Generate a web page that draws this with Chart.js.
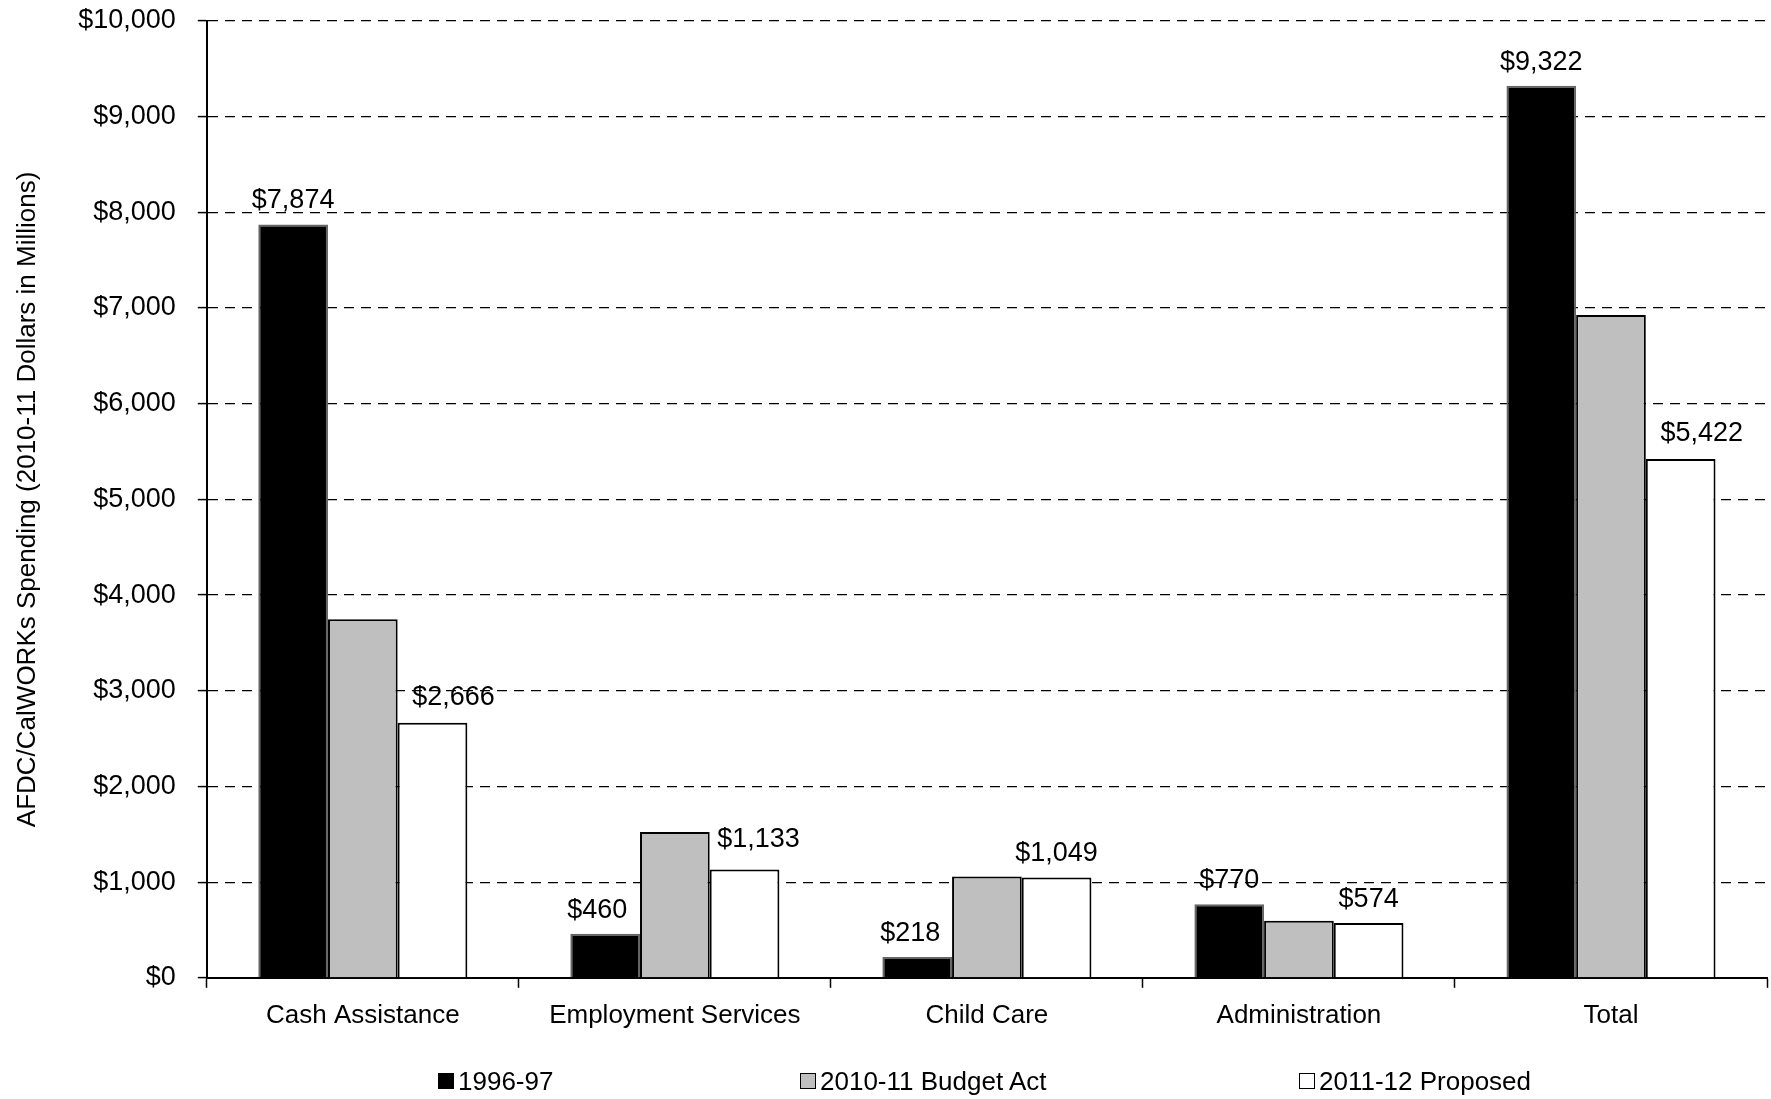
<!DOCTYPE html>
<html>
<head>
<meta charset="utf-8">
<script src="https://cdn.jsdelivr.net/npm/chart.js@4/dist/chart.umd.min.js"></script>
<style>
  html, body { margin: 0; padding: 0; background: #fff; }
  #wrap { position: relative; width: 1771px; height: 1099px; }
  #legend span.item {
    position: absolute; top: 1066px;
    display: flex; align-items: center; white-space: nowrap;
    font-family: "Liberation Sans", Arial, sans-serif;
    font-size: 26px; line-height: 30px; color: #000;
  }
  #legend span.box {
    display: inline-block; width: 16px; height: 16px; margin-right: 4px;
    border: 1.5px solid #000; box-sizing: border-box;
  }
</style>
</head>
<body>
<div id="wrap">
  <canvas id="chart" width="1771" height="1099"></canvas>
  <div id="legend"></div>
</div>
<script>
// ─── Data (2010-11 dollars, millions) ────────────────────────────────────────

const categories = ["Cash Assistance", "Employment Services", "Child Care", "Administration", "Total"];
const seriesNames = ["1996-97", "2010-11 Budget Act", "2011-12 Proposed"];
const spend1996 = [7874, 460, 218, 770, 9322];
const spend2010 = [3747, 1525, 1060, 595, 6927];
const spend2011 = [2666, 1133, 1049, 574, 5422];
const showValues = [true, false, true];   // gray series carries no labels
const yTicks = [0, 1000, 2000, 3000, 4000, 5000, 6000, 7000, 8000, 9000, 10000];

// ─── Styling ─────────────────────────────────────────────────────────────────

const FONT = "'Liberation Sans', Arial, sans-serif";
const fills = ["#000000", "#bfbfbf", "#ffffff"];
const edges = ["#666666", "#000000", "#000000"];
const legendLeft = [438, 800, 1299];

// a few labels were nudged off-centre in the original (series, category) -> [dx, dy]
const labelNudge = {
  "0,1": [-8, 0], "0,2": [-7, 0],
  "2,0": [21, -2], "2,1": [14, -6], "2,4": [21, -2]
};

Chart.defaults.font.family = FONT;
Chart.defaults.color = "#000";

const money = v => "$" + v.toLocaleString("en-US");

// values drawn above black and white bars
const valueLabels = {
  id: "valueLabels",
  afterDatasetsDraw(chart) {
    const ctx = chart.ctx;
    ctx.save();
    ctx.font = "27px " + FONT;
    ctx.fillStyle = "#000";
    ctx.textAlign = "center";
    ctx.textBaseline = "alphabetic";
    chart.data.datasets.forEach((ds, i) => {
      if (!showValues[i]) return;
      chart.getDatasetMeta(i).data.forEach((bar, j) => {
        const [dx, dy] = labelNudge[i + "," + j] || [0, 0];
        ctx.fillText(money(ds.data[j]), bar.x + dx, bar.y - 16 + dy);
      });
    });
    ctx.restore();
  }
};

const seriesData = [spend1996, spend2010, spend2011];

new Chart(document.getElementById("chart"), {
  type: "bar",
  data: {
    labels: categories,
    datasets: seriesNames.map((name, i) => ({
      label: name,
      data: seriesData[i],
      backgroundColor: fills[i],
      borderColor: edges[i],
      borderWidth: 2,
      barPercentage: 1.0,
      categoryPercentage: 0.67,
    }))
  },
  options: {
    responsive: false,
    animation: false,
    layout: { padding: { left: 12, right: 4, top: 0, bottom: 56 } },
    plugins: {
      legend: { display: false },
      tooltip: { enabled: false }
    },
    scales: {
      x: {
        grid: {
          offset: true,
          drawOnChartArea: false,
          drawTicks: true,
          tickLength: 10,
          tickColor: "#000",
          tickWidth: 1.5
        },
        border: { display: true, color: "#000", width: 2 },
        ticks: { font: { size: 26 }, padding: 12, maxRotation: 0 }
      },
      y: {
        min: 0, max: 10000,
        afterBuildTicks: axis => { axis.ticks = yTicks.map(v => ({ value: v })); },
        afterFit: axis => { axis.paddingTop = 21; },
        grid: {
          color: "#000",
          lineWidth: 1.2,
          tickLength: 9,
          tickColor: "#000",
          tickWidth: 1.5
        },
        border: { display: true, color: "#000", width: 2, dash: [10, 7] },
        ticks: { font: { size: 27 }, padding: 22, callback: v => money(v) },
        title: {
          display: true,
          text: "AFDC/CalWORKs Spending (2010-11 Dollars in Millions)",
          font: { size: 26 },
          padding: { top: 0, bottom: 13 }
        }
      }
    }
  },
  plugins: [valueLabels]
});

// legend under the plot
const legendEl = document.getElementById("legend");
seriesNames.forEach((name, i) => {
  const item = document.createElement("span");
  item.className = "item";
  item.style.left = legendLeft[i] + "px";
  const box = document.createElement("span");
  box.className = "box";
  box.style.background = fills[i];
  item.appendChild(box);
  item.appendChild(document.createTextNode(name));
  legendEl.appendChild(item);
});
</script>
</body>
</html>
